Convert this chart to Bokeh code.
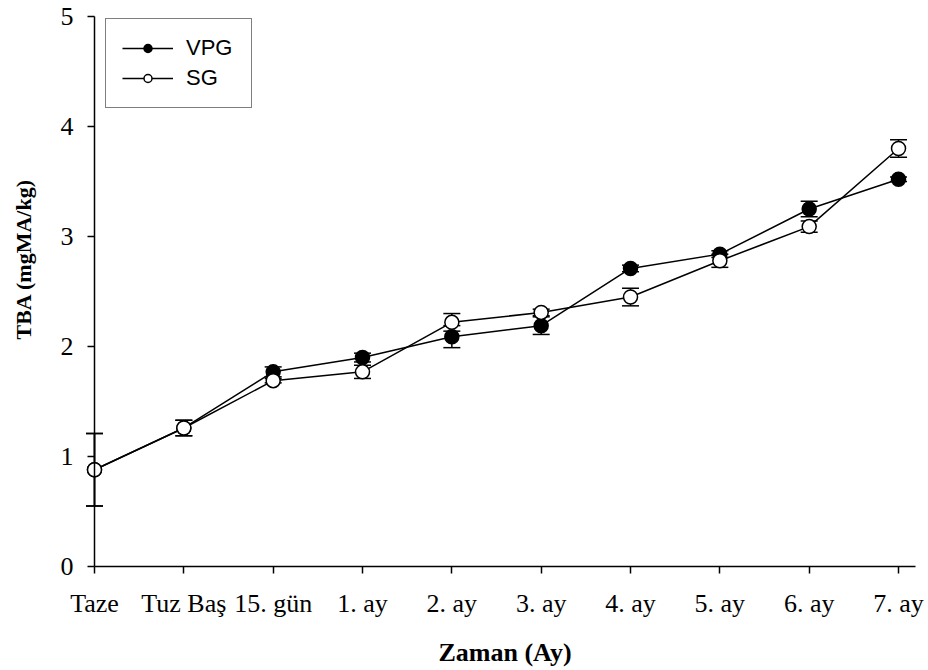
from bokeh.plotting import figure
from bokeh.models import (FixedTicker, Range1d, Legend, LegendItem, Whisker,
                          ColumnDataSource, TeeHead, Title)
from bokeh.embed import file_html
from bokeh.resources import INLINE

categories = ["Taze", "Tuz Baş", "15. gün", "1. ay", "2. ay", "3. ay",
              "4. ay", "5. ay", "6. ay", "7. ay"]
vpg = [0.88, 1.26, 1.77, 1.90, 2.09, 2.19, 2.71, 2.84, 3.25, 3.52]
vpg_err = [0.33, 0.07, 0.045, 0.04, 0.10, 0.08, 0.03, 0.03, 0.07, 0.02]
sg = [0.88, 1.26, 1.69, 1.77, 2.22, 2.31, 2.45, 2.78, 3.09, 3.80]
sg_err = [0.33, 0.07, 0.02, 0.06, 0.08, 0.03, 0.08, 0.06, 0.05, 0.08]
y_ticks = [0, 1, 2, 3, 4, 5]

xs = list(range(len(categories)))
src_v = ColumnDataSource(dict(x=xs, y=vpg,
                              lo=[a - b for a, b in zip(vpg, vpg_err)],
                              hi=[a + b for a, b in zip(vpg, vpg_err)]))
src_s = ColumnDataSource(dict(x=xs, y=sg,
                              lo=[a - b for a, b in zip(sg, sg_err)],
                              hi=[a + b for a, b in zip(sg, sg_err)]))

# frame is larger than the axes so that markers / labels on the axes are not clipped
p = figure(width=928, height=670, output_backend="svg", toolbar_location=None,
           x_range=Range1d(-0.6045, 9.3355), y_range=Range1d(-0.5898, 5.127),
           min_border_left=40, min_border_right=0, min_border_top=2,
           min_border_bottom=38)
p.outline_line_color = None
p.grid.visible = False
p.background_fill_color = "white"
p.border_fill_color = "white"

SERIF = "Liberation Serif"

# axes
xa = p.xaxis[0]
xa.ticker = FixedTicker(ticks=xs)
xa.major_label_overrides = {i: c for i, c in enumerate(categories)}
xa.bounds = (0, 9.19)
xa.fixed_location = 0
ya = p.yaxis[0]
ya.ticker = FixedTicker(ticks=y_ticks)
ya.bounds = (0, 5)
ya.fixed_location = 0
for ax in (xa, ya):
    ax.axis_line_width = 1.5
    ax.axis_line_color = "black"
    ax.major_tick_line_width = 1.5
    ax.major_tick_line_color = "black"
    ax.major_tick_in = 0
    ax.major_tick_out = 7
    ax.minor_tick_line_color = None
    ax.major_label_text_font = SERIF
    ax.major_label_text_font_size = "26px"
    ax.major_label_text_color = "black"
xa.major_label_standoff = 15
ya.major_label_standoff = 14

p.add_layout(Title(text="TBA (mgMA/kg)", text_font=SERIF, text_font_size="22px",
                   text_font_style="bold", text_color="black", align="left",
                   offset=292), "left")
p.add_layout(Title(text="Zaman (Ay)", text_font=SERIF, text_font_size="26px",
                   text_font_style="bold", text_color="black", align="left",
                   offset=398, standoff=8), "below")

# error bars
for src in (src_v, src_s):
    w = Whisker(source=src, base="x", lower="lo", upper="hi",
                line_width=1.5, line_color="black",
                upper_head=TeeHead(size=17, line_width=1.5, line_color="black"),
                lower_head=TeeHead(size=17, line_width=1.5, line_color="black"))
    p.add_layout(w)

lv = p.line("x", "y", source=src_v, line_color="black", line_width=1.5)
ls = p.line("x", "y", source=src_s, line_color="black", line_width=1.5)
mv = p.scatter("x", "y", source=src_v, marker="circle", size=14,
               fill_color="black", line_color="black", line_width=1.5)
ms = p.scatter("x", "y", source=src_s, marker="circle", size=14,
               fill_color="white", line_color="black", line_width=1.5)

legend = Legend(items=[LegendItem(label="VPG", renderers=[lv, mv]),
                       LegendItem(label="SG", renderers=[ls, ms])],
                location=(65, 523))
legend.glyph_width = 51
legend.glyph_height = 20
legend.label_height = 20
legend.label_width = 49
legend.label_standoff = 13
legend.spacing = 4
legend.padding = 16
legend.margin = 0
legend.border_line_color = "black"
legend.border_line_width = 1.2
legend.background_fill_alpha = 1
legend.label_text_font = "Liberation Sans"
legend.label_text_font_size = "22px"
legend.label_text_color = "black"
p.add_layout(legend)

open("out.html", "w").write(file_html(p, INLINE))
